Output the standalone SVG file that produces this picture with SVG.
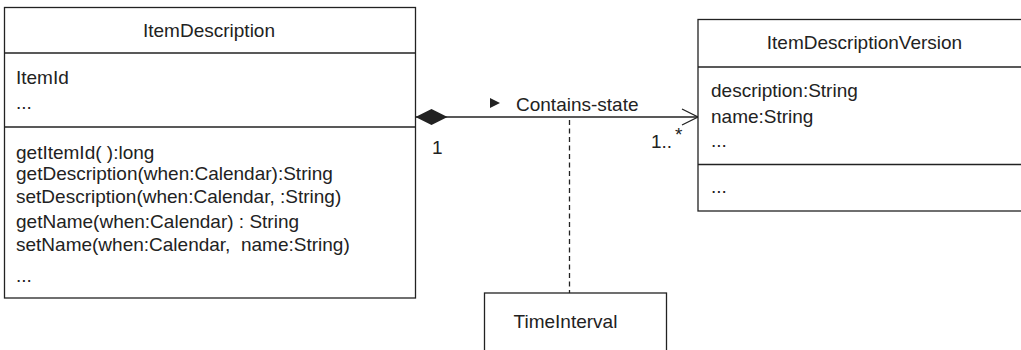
<svg xmlns="http://www.w3.org/2000/svg" width="1021" height="350" viewBox="0 0 1021 350">
  <style>
    .box { fill: #ffffff; stroke: #222222; stroke-width: 1.3; }
    .sep { stroke: #222222; stroke-width: 1.3; fill: none; }
    .txt { font-family: "Liberation Sans", Arial, sans-serif; font-size: 19px; fill: #222222; }
    .mid { text-anchor: middle; }
    .edge { stroke: #222222; stroke-width: 1.3; fill: none; }
    .dash { stroke: #222222; stroke-width: 1.3; stroke-dasharray: 5 3.5; fill: none; }
  </style>
  <defs>
    <marker id="diamond" markerUnits="userSpaceOnUse" markerWidth="34" markerHeight="18" refX="0" refY="8" orient="auto">
      <path d="M0,8 L16,0 L32,8 L16,16 Z" fill="#222222"/>
    </marker>
    <marker id="open-arrow" markerUnits="userSpaceOnUse" markerWidth="20" markerHeight="20" refX="17" refY="9" orient="auto">
      <path d="M1,1 L17,9 L1,17" fill="none" stroke="#222222" stroke-width="1.3"/>
    </marker>
  </defs>

  <!-- connectors -->
  <g id="connectors">
    <line class="edge" x1="415.5" y1="117" x2="698" y2="117" marker-start="url(#diamond)" marker-end="url(#open-arrow)"/>
    <path d="M490,98 L500,103 L490,108 Z" fill="#222222"/>
    <text class="txt" x="516" y="111">Contains-state</text>
    <text class="txt" x="432" y="154">1</text>
    <text class="txt" x="651" y="148">1..</text>
    <text class="txt" x="675" y="141">*</text>
    <line class="dash" x1="569.5" y1="120" x2="569.5" y2="293"/>
  </g>

  <!-- ItemDescription class -->
  <g id="item-description">
    <rect class="box" x="4.5" y="7.5" width="411" height="290.5"/>
    <line class="sep" x1="4.5" y1="53" x2="415.5" y2="53"/>
    <line class="sep" x1="4.5" y1="127" x2="415.5" y2="127"/>
    <text class="txt mid" x="209" y="37">ItemDescription</text>
    <text class="txt" x="16" y="84">ItemId</text>
    <text class="txt" x="16" y="109">...</text>
    <text class="txt" x="16" y="159">getItemId( ):long</text>
    <text class="txt" x="16" y="180">getDescription(when:Calendar):String</text>
    <text class="txt" x="16" y="203">setDescription(when:Calendar, :String)</text>
    <text class="txt" x="16" y="228">getName(when:Calendar) : String</text>
    <text class="txt" x="16" y="251" xml:space="preserve">setName(when:Calendar,  name:String)</text>
    <text class="txt" x="16" y="282">...</text>
  </g>

  <!-- ItemDescriptionVersion class -->
  <g id="item-description-version">
    <rect class="box" x="698" y="19.5" width="330" height="191.5"/>
    <line class="sep" x1="698" y1="67" x2="1028" y2="67"/>
    <line class="sep" x1="698" y1="164.5" x2="1028" y2="164.5"/>
    <text class="txt mid" x="864.5" y="49">ItemDescriptionVersion</text>
    <text class="txt" x="711" y="97">description:String</text>
    <text class="txt" x="711" y="123">name:String</text>
    <text class="txt" x="711" y="147">...</text>
    <text class="txt" x="711" y="193">...</text>
  </g>

  <!-- TimeInterval association class -->
  <g id="time-interval">
    <rect class="box" x="484.5" y="293" width="182" height="70"/>
    <text class="txt mid" x="565.5" y="328">TimeInterval</text>
  </g>
</svg>
